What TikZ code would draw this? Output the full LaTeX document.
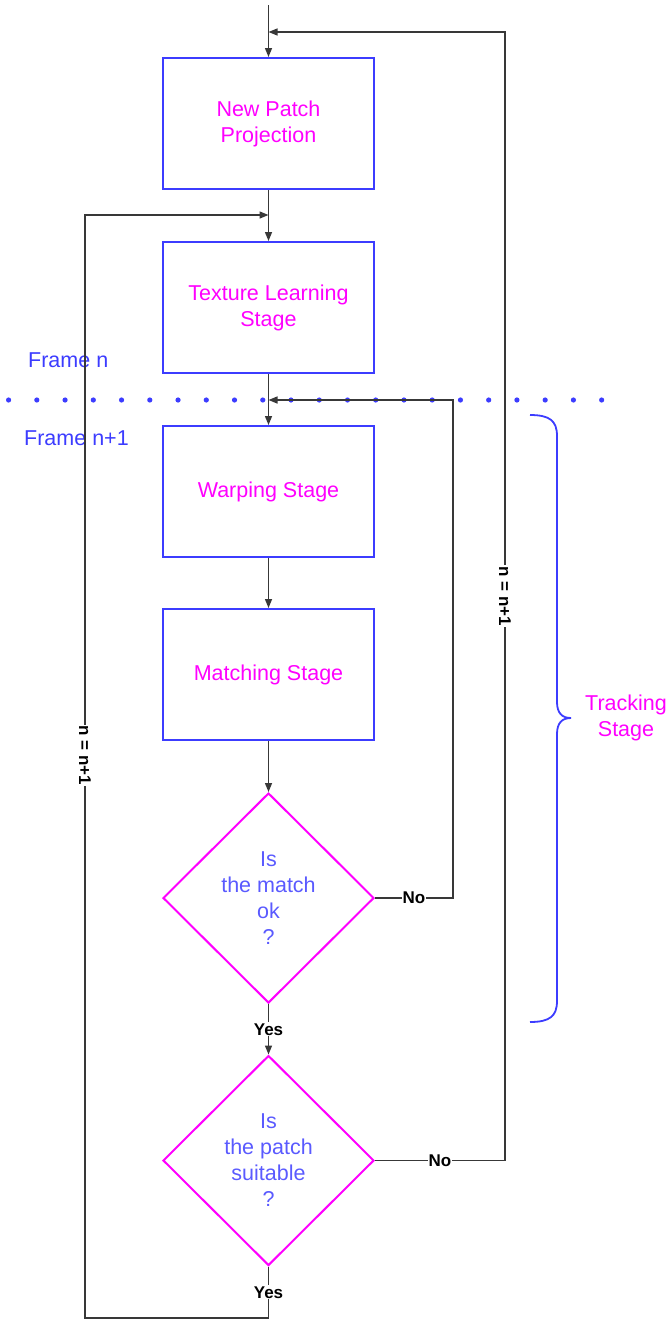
\documentclass[tikz,border=0pt]{standalone}
\usepackage{fontspec}
\setmainfont{Liberation Sans}
\usetikzlibrary{shapes.geometric,arrows.meta}
\definecolor{boxblue}{HTML}{3C3CFF}
\definecolor{dtext}{HTML}{5A5AFF}
\definecolor{mag}{HTML}{FF00FF}
\definecolor{lin}{HTML}{383838}
\begin{document}
\begin{tikzpicture}[x=1pt,y=1pt,
  stagebox/.style={draw=boxblue,line width=2pt,minimum width=211pt,minimum height=131pt,inner sep=0pt,
     text=mag,align=center,font=\fontsize{21.5}{26}\selectfont},
  decbox/.style={diamond,draw=mag,line width=2pt,minimum width=211pt,minimum height=210pt,inner sep=0pt,
     text=dtext,align=center,font=\fontsize{21.5}{26}\selectfont},
  conn/.style={draw=lin,line width=1.4pt},
  arr/.style={conn,-{Triangle[length=9pt,width=7pt]}},
  lbl/.style={fill=white,inner sep=1pt,text=black,font=\fontsize{17}{20}\selectfont\bfseries},
  framelbl/.style={text=boxblue,anchor=west,inner sep=0pt,font=\fontsize{21.5}{26}\selectfont}
]
\useasboundingbox (0,0) rectangle (668,-1320);

% dotted separator
\foreach \i in {0,...,21} \fill[boxblue] (8.6+28.24*\i,-400) circle (2.6);

\node[stagebox] (b1) at (268.5,-123.5) {New Patch\\Projection};
\node[stagebox] (b2) at (268.5,-307.5) {Texture Learning\\Stage};
\node[stagebox] (b3) at (268.5,-491.5) {Warping Stage};
\node[stagebox] (b4) at (268.5,-674.5) {Matching Stage};
\node[decbox] (d1) at (268.5,-898) {Is\\the match\\ok\\?};
\node[decbox] (d2) at (268.5,-1160.5) {Is\\the patch\\suitable\\?};

\node[framelbl] (fn) at (28,-360) {Frame n};
\node[framelbl] (fn1) at (24,-438) {Frame n+1};

\coordinate (start) at (268.5,-5);
\coordinate (jtop) at (268.5,-32);
\coordinate (jleft) at (268.5,-215);
\coordinate (jmid) at (268.5,-400);

% main flow
\draw[arr] (start) -- (b1.north);
\draw[arr] (b1.south) -- (b2.north);
\draw[arr] (b2.south) -- (b3.north);
\draw[arr] (b3.south) -- (b4.north);
\draw[arr] (b4.south) -- (d1.north);
\draw[arr] (d1.south) -- node[lbl] (y1) {Yes} (d2.north);

% left loop
\coordinate (lb1) at (268.5,-1318);
\coordinate (lb2) at (85,-1318);
\coordinate (lt) at (85,-215);
\draw[arr] (d2.south) -- node[lbl] (y2) {Yes} (lb1) -- (lb2)
  -- node[lbl,rotate=-90,pos=0.51] (n1) {n = n+1} (lt) -- (jleft);

% inner loop
\coordinate (r1a) at (453,-898);
\coordinate (r1b) at (453,-400);
\draw[arr] (d1.east) -- node[lbl] (no1) {No} (r1a) -- (r1b) -- (jmid);

% outer loop
\coordinate (r2a) at (505,-1160.5);
\coordinate (r2b) at (505,-32);
\draw[arr] (d2.east) -- node[lbl] (no2) {No} (r2a)
  -- node[lbl,rotate=-90] (n2) {n = n+1} (r2b) -- (jtop);

% brace
\draw[boxblue,line width=1.8pt] (530,-415) .. controls (550,-415) and (557,-421) .. (557,-436)
  -- (557,-702) .. controls (557,-713) and (562,-718) .. (571,-718)
  .. controls (562,-718) and (557,-723) .. (557,-734)
  -- (557,-1001) .. controls (557,-1016) and (550,-1022) .. (530,-1022);
\node[text=mag,align=center,font=\fontsize{21.5}{26}\selectfont] (ts) at (626,-718) {Tracking\\Stage};
\end{tikzpicture}
\end{document}
